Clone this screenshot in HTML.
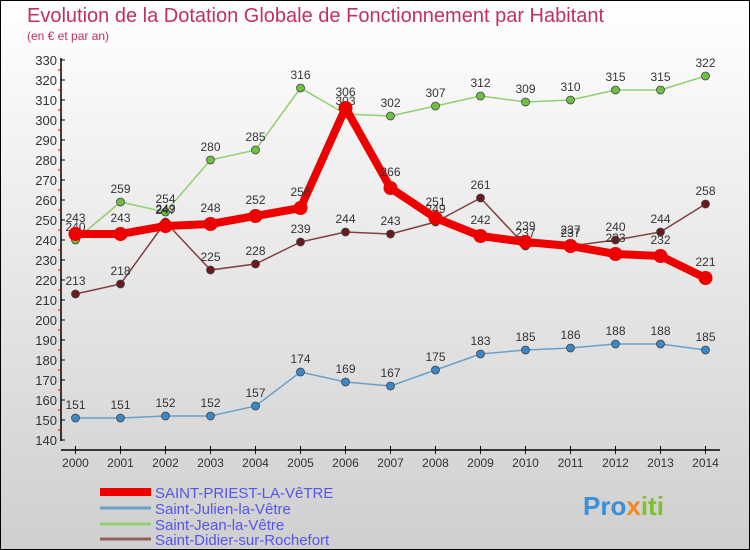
<!DOCTYPE html>
<html><head><meta charset="utf-8"><style>
body{margin:0}
#c{width:750px;height:550px;position:relative;box-sizing:border-box;border:1px solid #000;background:linear-gradient(#ffffff,#cfcfcf);font-family:"Liberation Sans",sans-serif;overflow:hidden}
</style></head><body>
<div id="c">
<svg width="750" height="550" style="position:absolute;left:-1px;top:-1px" id="s">
<text x="27" y="22" font-size="20" fill="#c03060">Evolution de la Dotation Globale de Fonctionnement par Habitant</text>
<text x="27" y="40" font-size="12" fill="#c03060">(en € et par an)</text>
<g id="axes"></g><g id="series"></g>
<g>
<line x1="100" y1="492" x2="151" y2="492" stroke="#ee0000" stroke-width="8"/>
<text x="155" y="498" font-size="15" fill="#5555ee">SAINT-PRIEST-LA-VêTRE</text>
<line x1="100" y1="508" x2="151" y2="508" stroke="#6aa0c8" stroke-width="3"/>
<text x="155" y="514" font-size="15" fill="#5555ee">Saint-Julien-la-Vêtre</text>
<line x1="100" y1="524" x2="151" y2="524" stroke="#90d070" stroke-width="3"/>
<text x="155" y="530" font-size="15" fill="#5555ee">Saint-Jean-la-Vêtre</text>
<line x1="100" y1="539" x2="151" y2="539" stroke="#906060" stroke-width="3"/>
<text x="155" y="545" font-size="15" fill="#5555ee">Saint-Didier-sur-Rochefort</text>
</g>
<text x="583" y="515" font-size="26" font-weight="bold"><tspan fill="#3a8fd8">Pro</tspan><tspan fill="#f08a20">x</tspan><tspan fill="#80c030">iti</tspan></text>
</svg>
</div>
<script>
const years=[2000,2001,2002,2003,2004,2005,2006,2007,2008,2009,2010,2011,2012,2013,2014];
const yTicks=[140,150,160,170,180,190,200,210,220,230,240,250,260,270,280,290,300,310,320,330];
const priest=[243,243,247,248,252,256,306,266,251,242,239,237,233,232,221];
const julien=[151,151,152,152,157,174,169,167,175,183,185,186,188,188,185];
const jean=[240,259,254,280,285,316,303,302,307,312,309,310,315,315,322];
const didier=[213,218,249,225,228,239,244,243,249,261,237,237,240,244,258];
const NS="http://www.w3.org/2000/svg";
const X=i=>75.5+i*45, Y=v=>440-(v-140)*2;
function mk(t,a,p){const e=document.createElementNS(NS,t);for(const k in a)e.setAttribute(k,a[k]);p.appendChild(e);return e;}
const ax=document.getElementById('axes');
mk('line',{x1:61,y1:58,x2:61,y2:441,stroke:'#000','stroke-width':1.5},ax);
mk('line',{x1:61,y1:450,x2:720,y2:450,stroke:'#000','stroke-width':1.5},ax);
yTicks.forEach(v=>{
 mk('line',{x1:61,y1:Y(v),x2:65,y2:Y(v),stroke:'#000'},ax);
 if(v<330) mk('line',{x1:58,y1:Y(v+5),x2:62,y2:Y(v+5),stroke:'#e00000'},ax);
 const t=mk('text',{x:57,y:Y(v)+5,'font-size':13,fill:'#333','text-anchor':'end'},ax);t.textContent=v;
 
 
});
years.forEach((yr,i)=>{
 mk('line',{x1:X(i),y1:446,x2:X(i),y2:454,stroke:'#000'},ax);
 const t=mk('text',{x:X(i),y:467,'font-size':12,fill:'#333','text-anchor':'middle'},ax);t.textContent=yr;
 
 
});
const sg=document.getElementById('series');
function series(d,name,col,dot,w,r){
 const g=mk('g',{},sg);
 
 
 mk('polyline',{points:d.map((v,i)=>X(i)+','+Y(v)).join(' '),fill:'none',stroke:col,'stroke-width':w,'stroke-linejoin':'round'},g);
 d.forEach((v,i)=>{
  const c=mk('circle',{cx:X(i),cy:Y(v),r:r,fill:dot,stroke:'#444','stroke-width':r>5?0:0.8},g);
  
  
  const t=mk('text',{x:X(i),y:Y(v)-r-5,'font-size':12,fill:'#333','text-anchor':'middle'},g);t.textContent=v;
  
  
 });
}
series(julien,'julien-series','#6aa0c8','#3a88c8',1.5,4);
series(jean,'jean-series','#90d070','#70c040',1.5,4);
series(didier,'didier-series','#804040','#6a1a1a',1.5,4);
series(priest,'priest-series','#ee0000','#ee0000',8,7);
</script>
</body></html>
